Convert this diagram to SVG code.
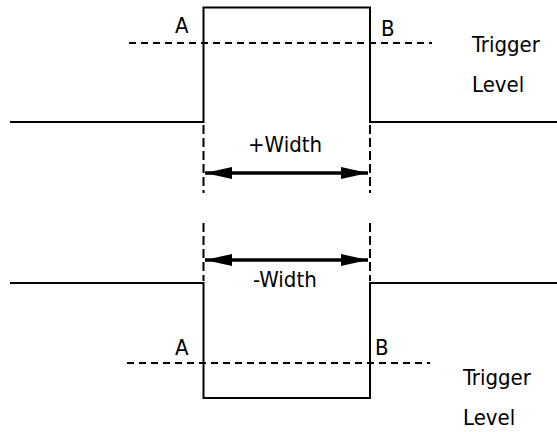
<svg xmlns="http://www.w3.org/2000/svg" width="557" height="432" viewBox="0 0 557 432">
<style>
.w{fill:none;stroke:#000;stroke-width:2}
.d{fill:none;stroke:#000;stroke-width:2;stroke-dasharray:7 5}
.v{fill:none;stroke:#000;stroke-width:2;stroke-dasharray:9 4}
.a{fill:none;stroke:#000;stroke-width:3.5}
text{font-family:"DejaVu Sans Condensed","DejaVu Sans","Noto Sans",sans-serif;font-stretch:condensed;font-size:22px;fill:#000}
</style>
<defs>
<marker id="ah" viewBox="0 0 10 10" refX="10" refY="5" markerWidth="27" markerHeight="12" markerUnits="userSpaceOnUse" orient="auto-start-reverse" preserveAspectRatio="none">
<path d="M0,0 L10,5 L0,10 Z" fill="#000"/>
</marker>
</defs>
<rect width="557" height="432" fill="#fff"/>
<g id="positive-pulse">
<path class="w" d="M10,122 H203.5 V7.5 H370 V122 H557"/>
<path class="d" d="M129,43 H432"/>
<text x="175" y="33">A</text>
<text x="381" y="36">B</text>
<text x="472" y="52">Trigger</text>
<text x="472" y="92">Level</text>
</g>
<g id="negative-pulse">
<path class="w" d="M10,283 H203.5 V398 H370 V283 H557"/>
<path class="d" d="M127,363 H430"/>
<text x="175" y="355">A</text>
<text x="375" y="355">B</text>
<text x="463" y="385">Trigger</text>
<text x="463" y="425">Level</text>
</g>
<g id="connectors">
<path class="v" d="M203.5,125 V193"/>
<path class="v" d="M370,125 V193"/>
<path class="a" d="M205,173 H368" marker-start="url(#ah)" marker-end="url(#ah)"/>
<text x="248" y="152">+Width</text>
<path class="v" d="M203.5,223 V281"/>
<path class="v" d="M370,223 V281"/>
<path class="a" d="M205,260 H368" marker-start="url(#ah)" marker-end="url(#ah)"/>
<text x="253" y="287">-Width</text>
</g>
</svg>
